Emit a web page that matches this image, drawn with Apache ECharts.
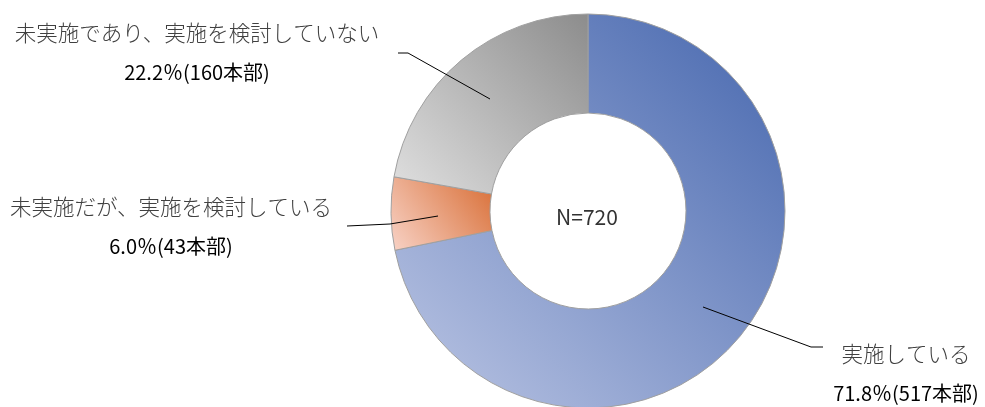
<!DOCTYPE html>
<html>
<head>
<meta charset="utf-8">
<script src="https://cdn.jsdelivr.net/npm/echarts@6/dist/echarts.min.js"></script>
<style>
  html, body { margin: 0; padding: 0; background: #fff; }
  #chart { width: 985px; height: 407px; }
</style>
</head>
<body>
<div id="chart"></div>
<script>
// Survey result: implementation status across 720 headquarters
const categories = ['実施している', '未実施だが、実施を検討している', '未実施であり、実施を検討していない'];
const counts = [517, 43, 160];
const total = 720;

// Slice shading: [dark corner, light corner]
const shades = [
  ['#4566ae', '#bcc6e4'],
  ['#d86d34', '#f8d3c7'],
  ['#8c8c8c', '#e0e0e0']
];

// Label anchor spots and leader paths
const labelSpots = [
  { x: 906, y: 373, line: [[703, 307], [811, 347], [823, 347]] },
  { x: 171, y: 226, line: [[438, 216], [390, 224], [347, 226]] },
  { x: 197, y: 52,  line: [[490, 99], [408, 53], [398, 53]] }
];

const center = [588, 211];
const radius = [98, 197];

const slices = categories.map((name, i) => ({
  name,
  value: counts[i],
  itemStyle: {
    color: new echarts.graphic.LinearGradient(1, 0, 0, 1, [
      { offset: 0, color: shades[i][0] },
      { offset: 1, color: shades[i][1] }
    ])
  }
}));

// Same values again, invisible, so leader lines sit above the ring
const labelSlices = categories.map((name, i) => ({ name, value: counts[i] }));

const chart = echarts.init(document.getElementById('chart'), null, { renderer: 'canvas' });
chart.setOption({
  animation: false,
  backgroundColor: '#ffffff',
  graphic: [{
    type: 'text',
    x: 587,
    y: 217,
    style: {
      text: 'N=' + total,
      fill: '#333333',
      align: 'center',
      verticalAlign: 'middle',
      font: '21px "Noto Sans CJK JP", sans-serif'
    },
    z: 10
  }],
  series: [{
    type: 'pie',
    z: 2,
    center,
    radius,
    startAngle: 90,
    clockwise: true,
    data: slices,
    itemStyle: { borderColor: '#a0a0a0', borderWidth: 1 },
    emphasis: { disabled: true },
    label: { show: false },
    labelLine: { show: false }
  }, {
    type: 'pie',
    z: 5,
    center,
    radius,
    startAngle: 90,
    clockwise: true,
    data: labelSlices,
    silent: true,
    itemStyle: { color: 'rgba(0,0,0,0)', borderWidth: 0 },
    emphasis: { disabled: true },
    label: {
      show: true,
      position: 'outside',
      formatter: p => '{a|' + p.name + '}\n{b|' + (p.value / total * 100).toFixed(1) + '％(' + p.value + '本部)}',
      rich: {
        a: {
          fontFamily: '"Noto Sans CJK JP", sans-serif',
          fontSize: 21.5,
          fontWeight: 300,
          color: '#404040',
          lineHeight: 40,
          align: 'center'
        },
        b: {
          fontFamily: '"Noto Sans CJK JP", sans-serif',
          fontSize: 20,
          color: '#000000',
          lineHeight: 38,
          align: 'center'
        }
      }
    },
    labelLine: {
      show: true,
      lineStyle: { color: '#000000', width: 1 }
    },
    labelLayout: params => {
      const s = labelSpots[params.dataIndex];
      return {
        x: s.x,
        y: s.y,
        align: 'center',
        verticalAlign: 'middle',
        labelLinePoints: s.line
      };
    }
  }]
});
</script>
</body>
</html>
